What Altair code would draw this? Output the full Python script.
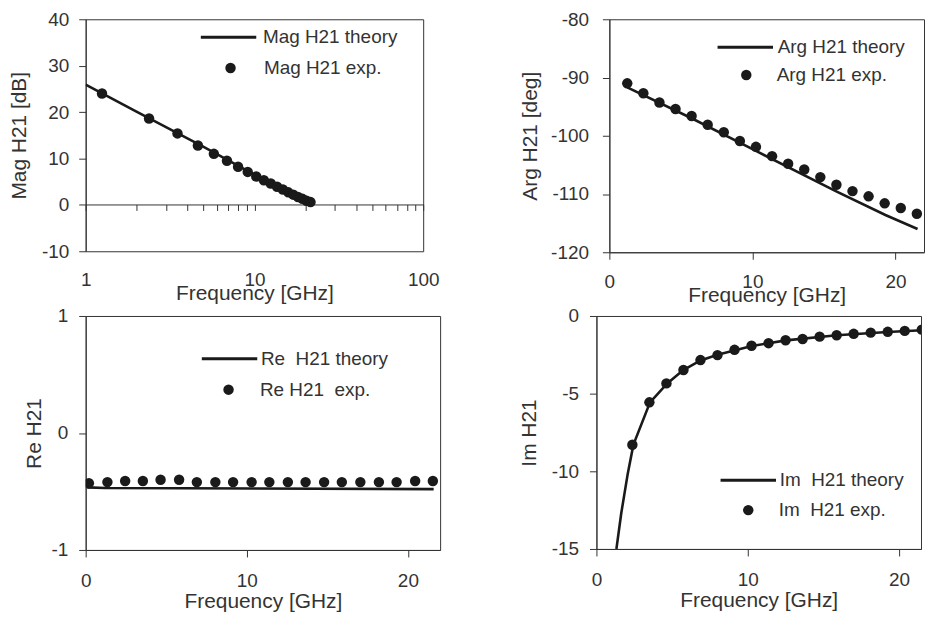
import altair as alt
import pandas as pd

FONT = "Liberation Sans"
INK = "#333333"
DARK = "#1a1a1a"

# ---------- data ----------
exp_f = [1.25, 2.375, 3.5, 4.625, 5.75, 6.875, 8.0, 9.125, 10.25, 11.375,
         12.5, 13.625, 14.75, 15.875, 17.0, 18.125, 19.25, 20.375, 21.5]

mag_exp = [24.0, 18.6, 15.4, 12.8, 11.0, 9.5, 8.2, 7.1, 6.1, 5.3,
           4.6, 3.9, 3.3, 2.7, 2.2, 1.7, 1.3, 0.9, 0.6]
mag_th_f = [1, 2, 5, 10, 15, 21.8]
mag_th = [25.9, 20.1, 12.5, 6.5, 3.1, 0.5]

arg_exp = [-91.0, -92.7, -94.3, -95.4, -96.6, -98.1, -99.4, -100.9, -101.9, -103.5,
           -104.8, -105.8, -107.1, -108.4, -109.5, -110.4, -111.6, -112.4, -113.4]
arg_th_f = [1.25, 5.75, 10.25, 15.9, 19.3, 21.55]
arg_th = [-91.7, -97.0, -102.6, -109.6, -113.6, -116.0]

re_f = [0.2, 1.35, 2.45, 3.55, 4.65, 5.8, 6.9, 8.05, 9.15, 10.3,
        11.4, 12.55, 13.65, 14.8, 15.9, 17.05, 18.2, 19.3, 20.45, 21.55]
re_exp = [-0.43, -0.42, -0.41, -0.41, -0.40, -0.40, -0.42, -0.42, -0.42, -0.42,
          -0.42, -0.42, -0.42, -0.42, -0.42, -0.42, -0.42, -0.42, -0.41, -0.41]
re_th_f = [0.1, 1.2, 21.6]
re_th = [-0.465, -0.47, -0.48]

im_f = exp_f[1:]
im_exp = [-8.29, -5.56, -4.34, -3.48, -2.84, -2.52, -2.18, -1.92, -1.75,
          -1.56, -1.48, -1.33, -1.24, -1.15, -1.07, -1.02, -0.96, -0.88]
im_th_f = [1.32, 1.64, 2.07, 2.44, 3.54, 4.68, 5.74, 6.88, 8.0, 10.27, 12.53, 15.88, 19.25, 22.0]
im_th = [-15.0, -12.7, -10.15, -8.3, -5.56, -4.34, -3.48, -2.86, -2.5, -1.93, -1.57, -1.24, -1.03, -0.9]

log_ticks = [1, 2, 3, 4, 5, 6, 7, 8, 9, 10, 20, 30, 40, 50, 60, 70, 80, 90, 100]

INT_LABEL = "(datum.value < 0 ? '-' : '') + format(abs(datum.value), 'd')"


def panel(th_f, th_v, ex_f, ex_v, th_name, ex_name, xenc, yenc, w, h, line_leg, dot_leg):
    df_th = pd.DataFrame({"f": th_f, "v": th_v, "s": th_name})
    df_ex = pd.DataFrame({"f": ex_f, "v": ex_v, "s": ex_name})
    line = alt.Chart(df_th).mark_line(strokeWidth=2.6, clip=True).encode(
        x=xenc, y=yenc,
        color=alt.Color("s:N", scale=alt.Scale(domain=[th_name], range=[DARK]),
                        legend=alt.Legend(title=None, orient="none",
                                          legendX=line_leg[0], legendY=line_leg[1],
                                          symbolType="stroke", symbolSize=3100, clipHeight=20,
                                          symbolStrokeWidth=3, labelOffset=line_leg[2])),
    )
    pts = alt.Chart(df_ex).mark_point(filled=True, size=110, color=DARK, opacity=1, clip=True).encode(
        x=xenc, y=yenc,
        shape=alt.Shape("s:N", scale=alt.Scale(domain=[ex_name], range=["circle"]),
                        legend=alt.Legend(title=None, orient="none",
                                          legendX=dot_leg[0], legendY=dot_leg[1], clipHeight=20,
                                          symbolSize=110, symbolFillColor=DARK,
                                          symbolStrokeColor=DARK, symbolOpacity=1,
                                          labelOffset=dot_leg[2])),
    )
    return alt.layer(line, pts).properties(width=w, height=h)


def yaxis(vals, title, lp, tp):
    return alt.Axis(values=vals, title=title, labelPadding=lp, titlePadding=tp,
                    labelExpr=INT_LABEL, labelOverlap=False)


def xaxis_lin(tp, lp=15):
    return alt.Axis(values=[0, 10, 20], title="Frequency [GHz]", labelPadding=lp,
                    labelFlush=False, labelOverlap=False, titlePadding=tp, labelExpr=INT_LABEL)


# Panel A (log x)
xA = alt.X("f:Q", scale=alt.Scale(type="log", domain=[1, 100]),
           axis=alt.Axis(values=log_ticks, title="Frequency [GHz]", offset=-47, tickSize=6,
                         labelPadding=60, labelFlush=False, labelOverlap=False,
                         labelExpr="(datum.value == 1 || datum.value == 10 || datum.value == 100) ? datum.label : ''",
                         titlePadding=-7))
yA = alt.Y("v:Q", scale=alt.Scale(domain=[-10, 40]),
           axis=yaxis([-10, 0, 10, 20, 30, 40], "Mag H21 [dB]", 10, 12))
A = panel(mag_th_f, mag_th, exp_f, mag_exp, "Mag H21 theory", "Mag H21 exp.", xA, yA, 339, 233,
          (114, 8, 5), (136, 39, 24))

# Panel B
xB = alt.X("f:Q", scale=alt.Scale(domain=[0, 22]), axis=xaxis_lin(-7, 13))
yB = alt.Y("v:Q", scale=alt.Scale(domain=[-120, -80]),
           axis=yaxis([-120, -110, -100, -90, -80], "Arg H21 [deg]", 14, 10))
B = panel(arg_th_f, arg_th, exp_f, arg_exp, "Arg H21 theory", "Arg H21 exp.", xB, yB, 316, 234,
          (107, 18, 3), (128, 46, 21))

# Panel C
xC = alt.X("f:Q", scale=alt.Scale(domain=[0, 22]), axis=xaxis_lin(0))
yC = alt.Y("v:Q", scale=alt.Scale(domain=[-1, 1]),
           axis=yaxis([-1, 0, 1], "Re H21", 11, 6))
C = panel(re_th_f, re_th, re_f, re_exp, "Re\u00a0 H21 theory", "Re H21\u00a0 exp.", xC, yC, 356, 235,
          (115, 33, 2), (134, 64, 22))

# Panel D
xD = alt.X("f:Q", scale=alt.Scale(domain=[0, 21.45]), axis=xaxis_lin(0))
yD = alt.Y("v:Q", scale=alt.Scale(domain=[-15, 0]),
           axis=yaxis([-15, -10, -5, 0], "Im H21", 11, 12))
D = panel(im_th_f, im_th, im_f, im_exp, "Im\u00a0 H21 theory", "Im\u00a0 H21 exp.", xD, yD, 326, 234,
          (123, 155, 2), (143, 185, 21))

row1 = alt.hconcat(A, B, spacing=187, bounds="flush").resolve_scale(
    color="independent", shape="independent").resolve_legend(color="independent", shape="independent")
row2 = alt.hconcat(C, D, spacing=157, bounds="flush").resolve_scale(
    color="independent", shape="independent").resolve_legend(color="independent", shape="independent")

chart = alt.vconcat(row1, row2, spacing=0).resolve_scale(
    color="independent", shape="independent").resolve_legend(
    color="independent", shape="independent").properties(padding=0, background="white").configure_axis(
    labelFont=FONT, titleFont=FONT, labelFontSize=19, titleFontSize=21, titleFontWeight="normal",
    labelColor=INK, titleColor=INK, domainColor=INK, tickColor=INK, grid=False, tickSize=7,
    domainWidth=1, tickWidth=1).configure_view(stroke=INK, strokeWidth=1).configure_legend(
    labelFont=FONT, labelFontSize=19, labelColor=INK, padding=0, labelLimit=0)

chart.save("out.html", embed_options={"renderer": "svg", "actions": False})
